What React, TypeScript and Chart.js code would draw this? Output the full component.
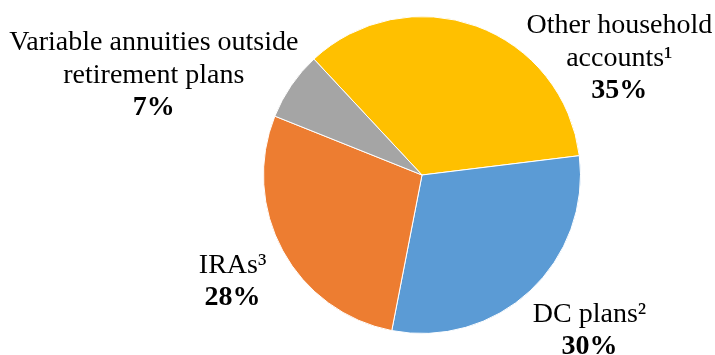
import React, { useEffect, useRef } from "react";
import { Chart, registerables } from "chart.js";

Chart.register(...registerables);

const categories = [
  "Other household accounts¹",
  "DC plans²",
  "IRAs³",
  "Variable annuities outside retirement plans",
];
const values = [35, 30, 28, 7];
const colors = ["#FFC000", "#5B9BD5", "#ED7D31", "#A5A5A5"];
const labelLines = [
  ["Other household", "accounts¹"],
  ["DC plans²"],
  ["IRAs³"],
  ["Variable annuities outside", "retirement plans"],
];
const percentLabels = ["35%", "30%", "28%", "7%"];

// label anchor offsets, expressed in multiples of the pie radius
const labelOffsets = [
  [1.245, -0.893],
  [1.057, 0.925],
  [-1.195, 0.616],
  [-1.692, -0.786],
];

const FONT = "28px 'Liberation Serif', 'Times New Roman', serif";
const BOLD = "bold 28px 'Liberation Serif', 'Times New Roman', serif";
const LINE_H = 32.5;

const labelPlugin = {
  id: "pieLabels",
  afterDraw(chart: any) {
    const meta = chart.getDatasetMeta(0);
    const arc0 = meta.data[0];
    if (!arc0) return;
    const { x: cx, y: cy, outerRadius: r } = arc0.getProps(["x", "y", "outerRadius"], true);
    const ctx = chart.ctx;
    ctx.save();
    ctx.fillStyle = "#000";
    ctx.textAlign = "center";
    ctx.textBaseline = "alphabetic";
    labelLines.forEach((lines, i) => {
      const lx = cx + labelOffsets[i][0] * r;
      let ly = cy + labelOffsets[i][1] * r;
      ctx.font = FONT;
      lines.forEach((ln) => {
        ctx.fillText(ln, lx, ly);
        ly += LINE_H;
      });
      ctx.font = BOLD;
      ctx.fillText(percentLabels[i], lx, ly);
    });
    ctx.restore();
  },
};

export default function App() {
  const ref = useRef<HTMLCanvasElement | null>(null);
  useEffect(() => {
    document.body.style.margin = "0";
    const chart = new Chart(ref.current as HTMLCanvasElement, {
      type: "pie",
      data: {
        labels: categories,
        datasets: [
          {
            data: values,
            backgroundColor: colors,
            borderColor: "#ffffff",
            borderWidth: 1,
            hoverOffset: 0,
            offset: 0,
          },
        ],
      },
      options: {
        animation: false,
        responsive: false,
        rotation: -43,
        layout: { padding: { left: 263, right: 134, top: 16, bottom: 21 } },
        plugins: {
          legend: { display: false },
          tooltip: { enabled: false },
        },
      },
      plugins: [labelPlugin],
    });
    return () => chart.destroy();
  }, []);
  return (
    <div style={{ position: "absolute", left: 0, top: 0, width: 715, height: 355, background: "#fff" }}>
      <canvas ref={ref} width={715} height={355} style={{ display: "block" }} />
    </div>
  );
}
